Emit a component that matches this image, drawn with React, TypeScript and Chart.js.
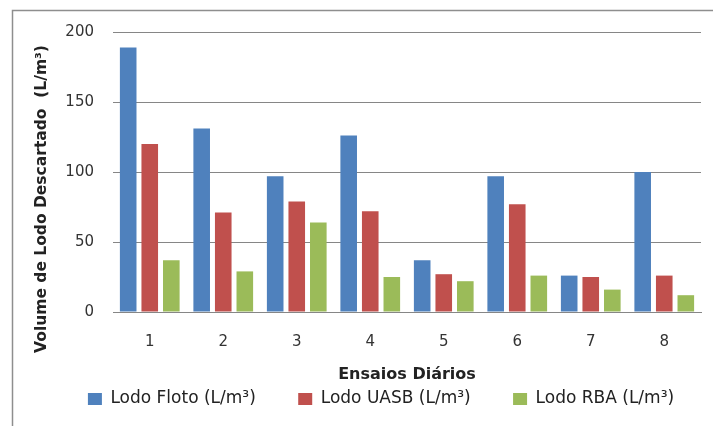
import React, { useEffect, useRef } from "react";
import { Chart, registerables } from "chart.js";

Chart.register(...registerables);

const categories = ["1", "2", "3", "4", "5", "6", "7", "8"];
const lodoFloto = [189, 131, 97, 126, 37, 97, 26, 100];
const lodoUASB = [120, 71, 79, 72, 27, 77, 25, 26];
const lodoRBA = [37, 29, 64, 25, 22, 26, 16, 12];
const seriesLabels = ["Lodo Floto (L/m³)", "Lodo UASB (L/m³)", "Lodo RBA (L/m³)"];
const yTicks = [0, 50, 100, 150, 200];
const yTitle = "Volume de Lodo Descartado  (L/m³)";
const xTitle = "Ensaios Diários";

const FONT = "'DejaVu Sans', sans-serif";
const GAP = "      ";

const borderPlugin = {
  id: "outerBorder",
  beforeDraw(chart: any) {
    const ctx = chart.ctx;
    ctx.save();
    ctx.fillStyle = "#ffffff";
    ctx.fillRect(0, 0, chart.width, chart.height);
    ctx.strokeStyle = "#8e8e8e";
    ctx.lineWidth = 1.5;
    ctx.strokeRect(12.5, 10.5, chart.width + 20, chart.height + 20);
    ctx.restore();
  },
};

export default function App() {
  const ref = useRef<HTMLCanvasElement>(null);
  useEffect(() => {
    if (!ref.current) return;
    const chart = new Chart(ref.current, {
      type: "bar",
      data: {
        labels: categories,
        datasets: [
          { label: seriesLabels[0], data: lodoFloto, backgroundColor: "#4F81BD" },
          { label: seriesLabels[1], data: lodoUASB, backgroundColor: "#C0504D" },
          { label: seriesLabels[2], data: lodoRBA, backgroundColor: "#9BBB59" },
        ],
      },
      plugins: [borderPlugin],
      options: {
        animation: false,
        responsive: true,
        maintainAspectRatio: false,
        datasets: { bar: { categoryPercentage: 0.88, barPercentage: 0.77 } },
        layout: { padding: { left: 61, right: 12, top: 32, bottom: 8.5 } },
        plugins: {
          tooltip: { enabled: false },
          legend: {
            position: "bottom",
            align: "center",
            labels: {
              boxWidth: 14,
              boxHeight: 12,
              padding: 10,
              color: "#222222",
              font: { family: FONT, size: 17 },
              generateLabels: (c: any) => {
                const items = Chart.defaults.plugins.legend.labels.generateLabels(c);
                return items.map((it: any, i: number) => ({
                  ...it,
                  text: i < items.length - 1 ? it.text + GAP : it.text,
                }));
              },
            },
          },
        },
        scales: {
          x: {
            grid: { display: false, drawTicks: false },
            border: { display: true, color: "#868686", width: 1 },
            ticks: { color: "#333333", padding: 21, font: { family: FONT, size: 15 } },
            title: {
              display: true,
              text: xTitle,
              color: "#222222",
              font: { family: FONT, size: 16, weight: "bold" },
              padding: { top: 0, bottom: -4 },
            },
            afterFit: (s: any) => {
              s.height = 68.5;
            },
          },
          y: {
            min: 0,
            max: 200,
            afterBuildTicks: (s: any) => {
              s.ticks = yTicks.map((v) => ({ value: v }));
            },
            grid: { color: "#868686", lineWidth: 1, drawTicks: false },
            border: { display: false },
            ticks: { color: "#333333", padding: 19, font: { family: FONT, size: 15 } },
            title: {
              display: true,
              text: yTitle + "          ",
              color: "#222222",
              font: { family: FONT, size: 15.5, weight: "bold" },
              padding: { top: -28, bottom: 0 },
            },
            afterFit: (s: any) => {
              s.width = 52;
            },
          },
        },
      },
    });
    return () => chart.destroy();
  }, []);
  return (
    <div style={{ position: "fixed", left: 0, top: 0, width: 713, height: 426, overflow: "hidden", background: "#fff" }}>
      <canvas ref={ref} />
    </div>
  );
}
